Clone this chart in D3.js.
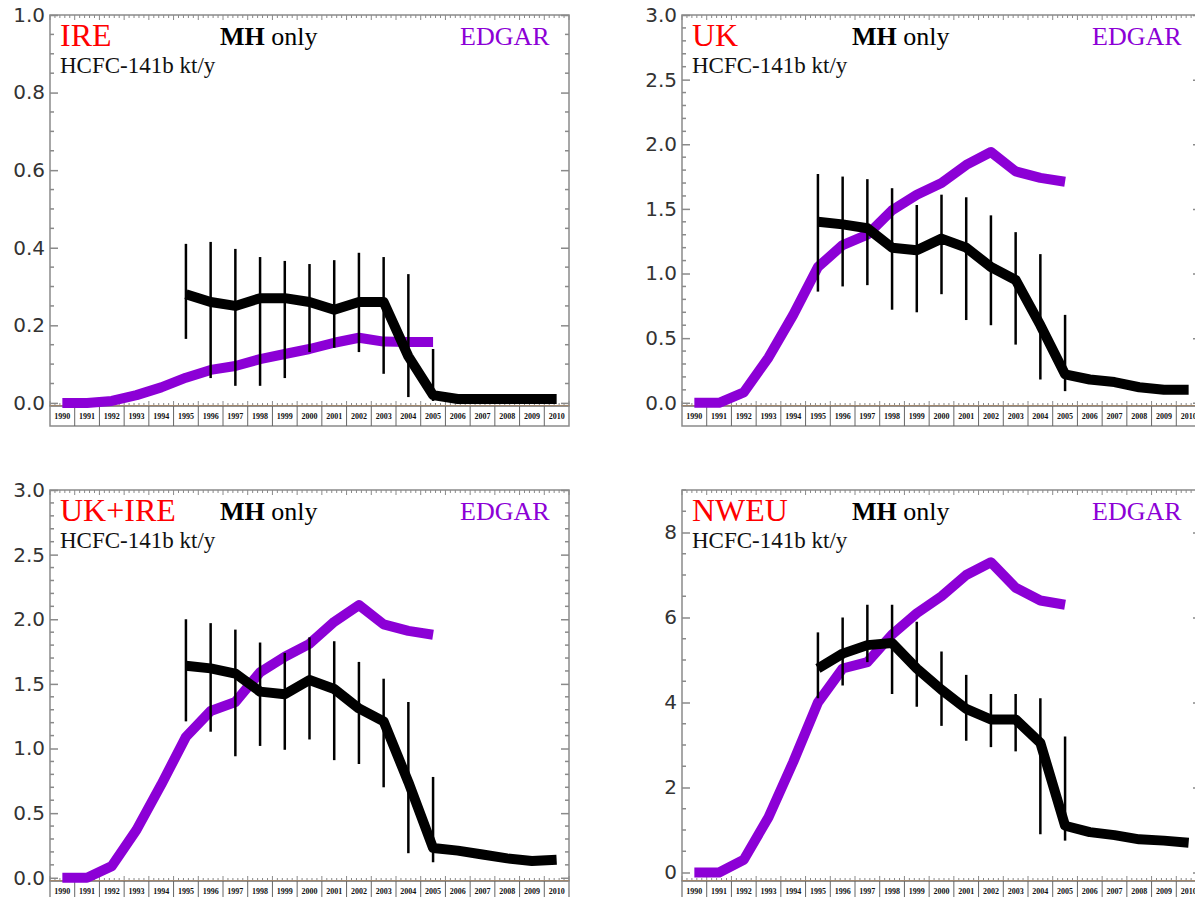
<!DOCTYPE html>
<html>
<head>
<meta charset="utf-8">
<script src="https://cdn.jsdelivr.net/npm/d3@7"></script>
<style>
  body { margin: 0; background: #fff; }
  svg { display: block; }
</style>
</head>
<body>
<div id="chart"></div>
<script>
// years on the x axis, EDGAR covers 1990-2005, MH covers 1995-2010
const years = [1990, 1991, 1992, 1993, 1994, 1995, 1996, 1997, 1998, 1999, 2000,
  2001, 2002, 2003, 2004, 2005, 2006, 2007, 2008, 2009, 2010];
const edgarYears = years.slice(0, 16);
const mhYears = years.slice(5);
const errYears = years.slice(5, 16);

// IRE
const ireEdgar = [0.0, 0.0, 0.005, 0.02, 0.04, 0.065, 0.085, 0.095, 0.113, 0.126, 0.139, 0.155, 0.168, 0.158, 0.157, 0.157];
const ireMH = [0.28, 0.26, 0.25, 0.27, 0.27, 0.26, 0.24, 0.26, 0.26, 0.12, 0.02, 0.01, 0.01, 0.01, 0.01, 0.01];
const ireHi = [0.41, 0.415, 0.397, 0.376, 0.366, 0.358, 0.368, 0.387, 0.376, 0.332, 0.139];
const ireLo = [0.165, 0.064, 0.044, 0.044, 0.064, 0.131, 0.142, 0.131, 0.075, 0.015, 0.005];
const ireTicks = [0.0, 0.2, 0.4, 0.6, 0.8, 1.0];

// UK
const ukEdgar = [0.0, 0.0, 0.08, 0.35, 0.68, 1.05, 1.22, 1.3, 1.49, 1.61, 1.7, 1.84, 1.94, 1.79, 1.74, 1.71];
const ukMH = [1.40, 1.38, 1.35, 1.2, 1.18, 1.27, 1.2, 1.05, 0.95, 0.6, 0.22, 0.18, 0.16, 0.12, 0.1, 0.1];
const ukHi = [1.77, 1.75, 1.73, 1.66, 1.53, 1.61, 1.59, 1.45, 1.32, 1.15, 0.68];
const ukLo = [0.86, 0.9, 0.91, 0.72, 0.7, 0.84, 0.64, 0.6, 0.45, 0.18, 0.09];
const ukTicks = [0.0, 0.5, 1.0, 1.5, 2.0, 2.5, 3.0];

// UK+IRE
const ukireEdgar = [0.0, 0.0, 0.09, 0.37, 0.72, 1.09, 1.29, 1.36, 1.59, 1.71, 1.81, 1.98, 2.11, 1.96, 1.91, 1.88];
const ukireMH = [1.64, 1.62, 1.58, 1.44, 1.42, 1.53, 1.46, 1.31, 1.21, 0.74, 0.23, 0.21, 0.18, 0.15, 0.13, 0.14];
const ukireHi = [2.0, 1.97, 1.92, 1.82, 1.74, 1.86, 1.83, 1.67, 1.54, 1.36, 0.78];
const ukireLo = [1.21, 1.13, 0.94, 1.02, 0.99, 1.07, 0.91, 0.88, 0.70, 0.19, 0.12];

// NWEU
const nweuEdgar = [0.0, 0.0, 0.3, 1.3, 2.6, 4.0, 4.8, 4.95, 5.6, 6.1, 6.5, 7.0, 7.3, 6.7, 6.4, 6.3];
const nweuMH = [4.8, 5.15, 5.35, 5.4, 4.8, 4.3, 3.85, 3.6, 3.6, 3.05, 1.1, 0.95, 0.88, 0.78, 0.75, 0.7];
const nweuHi = [5.65, 6.0, 6.3, 6.3, 5.9, 5.2, 4.65, 4.2, 4.2, 4.1, 3.2];
const nweuLo = [4.1, 4.4, 4.95, 4.2, 3.9, 3.45, 3.1, 2.95, 2.85, 0.9, 0.75];
const nweuTicks = [0, 2, 4, 6, 8];

const panels = [
  { name: 'IRE', left: 50, top: 15, domain: [-0.008, 1.0], ticks: ireTicks, minor: 0.05, fmt: '.1f',
    edgar: ireEdgar, mh: ireMH, hi: ireHi, lo: ireLo },
  { name: 'UK', left: 682, top: 15, domain: [-0.025, 3.0], ticks: ukTicks, minor: 0.1, fmt: '.1f',
    edgar: ukEdgar, mh: ukMH, hi: ukHi, lo: ukLo },
  { name: 'UK+IRE', left: 50, top: 490, domain: [-0.025, 3.0], ticks: ukTicks, minor: 0.1, fmt: '.1f',
    edgar: ukireEdgar, mh: ukireMH, hi: ukireHi, lo: ukireLo },
  { name: 'NWEU', left: 682, top: 490, domain: [-0.2, 9.0], ticks: nweuTicks, minor: 0.5, fmt: 'd',
    edgar: nweuEdgar, mh: nweuMH, hi: nweuHi, lo: nweuLo }
];

const width = 1195;
const height = 897;
const plotW = 519;
const plotH = 391;
const labelRowH = 20;

const purple = '#8c00d6';
const frameColor = '#8a8a8a';
const serif = '"Liberation Serif", "DejaVu Serif", serif';

const svg = d3.select('#chart').append('svg')
  .attr('width', width)
  .attr('height', height)
  .attr('viewBox', `0 0 ${width} ${height}`);

function drawPanel(p) {
  const g = svg.append('g').attr('transform', `translate(${p.left},${p.top})`);

  const x = d3.scaleBand().domain(years).range([0, plotW]).padding(0);
  const cx = d => x(d) + x.bandwidth() / 2;
  const y = d3.scaleLinear().domain(p.domain).range([plotH, 0]);

  // frame
  g.append('rect')
    .attr('width', plotW).attr('height', plotH)
    .attr('fill', 'none').attr('stroke', frameColor).attr('stroke-width', 1.5);

  // top and bottom minor ticks (5 per year)
  const xt = d3.scaleLinear().domain([0, years.length]).range([0, plotW]);
  const steps = d3.range(0, years.length * 5 + 1);
  g.append('g').selectAll('line').data(steps).join('line')
    .attr('x1', d => xt(d / 5)).attr('x2', d => xt(d / 5))
    .attr('y1', 0).attr('y2', d => d % 5 === 0 ? 5 : 3)
    .attr('stroke', frameColor).attr('stroke-width', 1);
  g.append('g').selectAll('line').data(steps).join('line')
    .attr('x1', d => xt(d / 5)).attr('x2', d => xt(d / 5))
    .attr('y1', plotH).attr('y2', d => plotH - (d % 5 === 0 ? 5 : 3))
    .attr('stroke', frameColor).attr('stroke-width', 1);

  // orange baseline
  g.append('line')
    .attr('x1', 0).attr('x2', plotW).attr('y1', plotH - 0.5).attr('y2', plotH - 0.5)
    .attr('stroke', '#e07a10').attr('stroke-width', 1);

  // year label row
  const row = g.append('g').attr('transform', `translate(0,${plotH})`);
  row.append('rect')
    .attr('width', plotW).attr('height', labelRowH)
    .attr('fill', 'none').attr('stroke', frameColor).attr('stroke-width', 1.5);
  row.selectAll('line.sep').data(years.slice(1)).join('line')
    .attr('class', 'sep')
    .attr('x1', d => x(d)).attr('x2', d => x(d))
    .attr('y1', 0).attr('y2', labelRowH)
    .attr('stroke', '#666').attr('stroke-width', 1);
  row.selectAll('text').data(years).join('text')
    .attr('x', cx).attr('y', 13)
    .attr('text-anchor', 'middle')
    .attr('font-family', serif).attr('font-size', 8).attr('font-weight', 'bold')
    .attr('fill', '#111')
    .text(d => d);

  // y axes, ticks pointing inward
  const yAxis = d3.axisLeft(y)
    .tickValues(p.ticks)
    .tickFormat(d3.format(p.fmt))
    .tickSizeInner(-8)
    .tickSizeOuter(0)
    .tickPadding(5);
  const ya = g.append('g').call(yAxis);
  ya.select('.domain').remove();
  ya.selectAll('line').attr('stroke', frameColor).attr('stroke-width', 1.5);
  ya.selectAll('text')
    .attr('font-family', '"DejaVu Sans", sans-serif')
    .attr('font-size', 20)
    .attr('fill', '#333');

  const yr = g.append('g').attr('transform', `translate(${plotW},0)`)
    .call(d3.axisRight(y).tickValues(p.ticks).tickFormat('').tickSizeInner(-8).tickSizeOuter(0));
  yr.select('.domain').remove();
  yr.selectAll('line').attr('stroke', frameColor).attr('stroke-width', 1.5);

  const top = p.domain[1];
  const minors = d3.range(0, Math.round(top / p.minor) + 1)
    .map(i => +(i * p.minor).toFixed(3))
    .filter(v => !p.ticks.some(t => Math.abs(t - v) < 1e-6));
  [0, plotW].forEach(x0 => {
    const dir = x0 === 0 ? 1 : -1;
    g.append('g').selectAll('line').data(minors).join('line')
      .attr('x1', x0).attr('x2', x0 + dir * 4)
      .attr('y1', d => y(d)).attr('y2', d => y(d))
      .attr('stroke', frameColor).attr('stroke-width', 1.5);
  });

  // EDGAR line
  const edgarLine = d3.line().x((d, i) => cx(edgarYears[i])).y(d => y(d));
  g.append('path')
    .datum(p.edgar)
    .attr('d', edgarLine)
    .attr('fill', 'none')
    .attr('stroke', purple)
    .attr('stroke-width', 10)
    .attr('stroke-linejoin', 'round');

  // error bars
  g.append('g').selectAll('line').data(errYears).join('line')
    .attr('x1', cx).attr('x2', cx)
    .attr('y1', (d, i) => y(p.hi[i]))
    .attr('y2', (d, i) => y(p.lo[i]))
    .attr('stroke', '#000')
    .attr('stroke-width', 2.5);

  // MH line
  const mhLine = d3.line().x((d, i) => cx(mhYears[i])).y(d => y(d));
  g.append('path')
    .datum(p.mh)
    .attr('d', mhLine)
    .attr('fill', 'none')
    .attr('stroke', '#000')
    .attr('stroke-width', 10)
    .attr('stroke-linejoin', 'round');

  // labels
  g.append('text')
    .attr('x', 10).attr('y', 31)
    .attr('font-family', serif).attr('font-size', 32)
    .attr('fill', '#ff0000')
    .text(p.name);

  const mh = g.append('text')
    .attr('x', 170).attr('y', 30)
    .attr('font-family', serif).attr('font-size', 26)
    .attr('fill', '#000');
  mh.append('tspan').attr('font-weight', 'bold').text('MH');
  mh.append('tspan').text(' only');

  g.append('text')
    .attr('x', 410).attr('y', 30)
    .attr('font-family', serif).attr('font-size', 26)
    .attr('fill', purple)
    .text('EDGAR');

  g.append('text')
    .attr('x', 10).attr('y', 58)
    .attr('font-family', serif).attr('font-size', 23)
    .attr('fill', '#111')
    .text('HCFC-141b kt/y');
}

panels.forEach(drawPanel);
</script>
</body>
</html>
